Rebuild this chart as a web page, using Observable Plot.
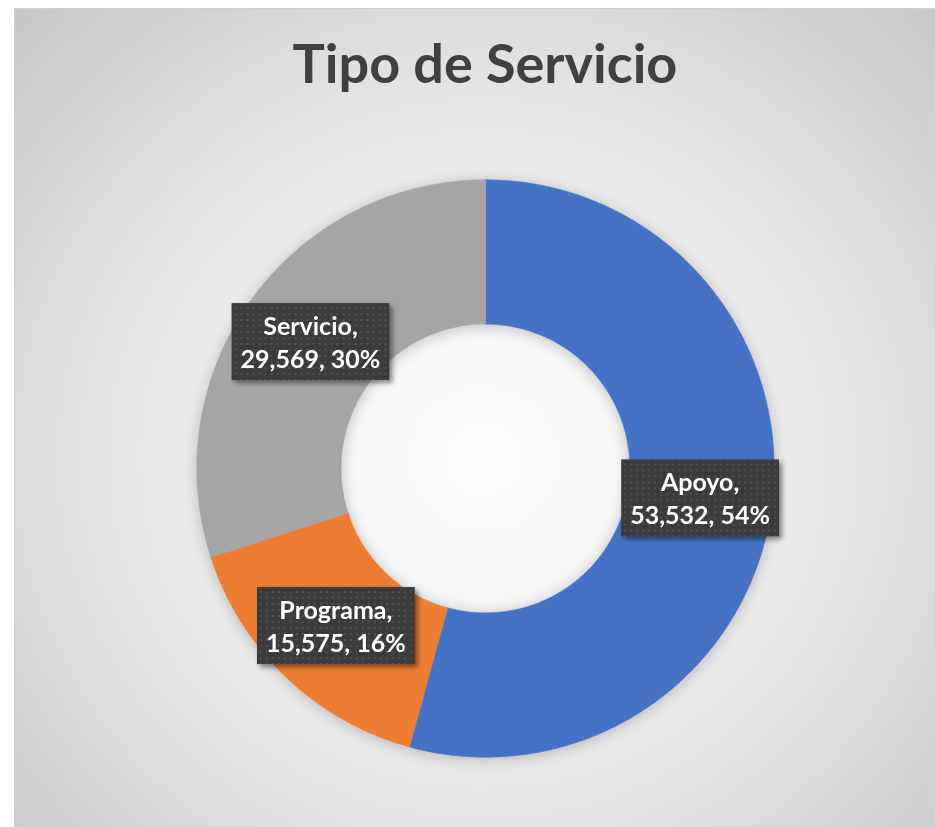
<!DOCTYPE html>
<html>
<head>
<meta charset="utf-8">
<script src="https://cdn.jsdelivr.net/npm/d3@7"></script>
<script src="https://cdn.jsdelivr.net/npm/@observablehq/plot@0.6"></script>
<style>
  html, body { margin: 0; padding: 0; background: #ffffff; }
  #frame {
    position: absolute; left: 14px; top: 8px; width: 921px; height: 819px;
    overflow: hidden;
    background: radial-gradient(ellipse farthest-corner at 51% 55%, #ffffff 0%, #f2f2f2 30%, #e3e3e3 60%, #c6c6c6 100%);
    box-shadow: inset 1px 1px 0 #cfcfcf;
  }
  #title {
    position: absolute; left: 0; top: 28px; width: 942px; text-align: center;
    font-family: Lato, "Open Sans", sans-serif; font-weight: bold; font-size: 54px;
    line-height: 54px; color: #404040; margin: 0;
  }
  #chart { position: absolute; left: 0; top: 120px; }
</style>
</head>
<body>
<div id="frame">
  <div id="title">Tipo de Servicio</div>
  <div id="chart"></div>
</div>
<script>
// ---- data ----
const categories = ["Apoyo", "Programa", "Servicio"];
const values = [53532, 15575, 29569];
const colors = ["#4472C4", "#ED7D31", "#A5A5A5"];

// ---- layout ----
const W = 921, H = 699;
const cx = 471, cy = 340;        // donut centre inside the svg (px)
const Rpx = 288.7;                // outer radius (px)
const inner = 0.5;                // hole size (fraction of outer radius)
const midR = (1 + inner) / 2;

const rows = categories.map((c, i) => ({category: c, value: values[i], color: colors[i]}));
const total = d3.sum(values);
const arcs = d3.pie().sort(null).value(d => d.value)(rows);

function ringPoints(a0, a1) {
  const pts = [];
  const n = Math.max(16, Math.ceil((a1 - a0) / 0.005));
  for (let i = 0; i <= n; i++) {
    const a = a0 + (a1 - a0) * i / n;
    pts.push({x: Math.sin(a), y: Math.cos(a)});
  }
  for (let i = n; i >= 0; i--) {
    const a = a0 + (a1 - a0) * i / n;
    pts.push({x: inner * Math.sin(a), y: inner * Math.cos(a)});
  }
  return pts;
}

const fmt = d3.format(",");
const labels = arcs.map(a => {
  const m = (a.startAngle + a.endAngle) / 2;
  return {
    x: midR * Math.sin(m),
    y: midR * Math.cos(m),
    text: `${a.data.category},\n${fmt(a.data.value)}, ${Math.round(a.data.value / total * 100)}%`
  };
});

const sliceMarks = arcs.map(a =>
  Plot.line(ringPoints(a.startAngle, a.endAngle), {
    x: "x", y: "y", curve: "linear-closed",
    fill: a.data.color, stroke: a.data.color, strokeWidth: 0.6,
    className: "slice"
  })
);

const plot = Plot.plot({
  width: W, height: H,
  margin: 0,
  style: {background: "transparent", overflow: "visible"},
  x: {domain: [-cx / Rpx, (W - cx) / Rpx], range: [0, W], axis: null},
  y: {domain: [-(H - cy) / Rpx, cy / Rpx], range: [H, 0], axis: null},
  marks: [
    ...sliceMarks,
    Plot.text(labels, {
      x: "x", y: "y", text: "text",
      fill: "white", fontSize: 25, fontWeight: "bold",
      fontFamily: "Lato, 'Open Sans', sans-serif",
      lineHeight: 1.32, className: "lbl"
    })
  ]
});

document.getElementById("chart").append(plot);

// ---- decorations: shadow filters, dotted label boxes ----
const ns = "http://www.w3.org/2000/svg";
const svg = plot.tagName.toLowerCase() === "svg" ? plot : plot.querySelector("svg");
const defs = document.createElementNS(ns, "defs");
defs.innerHTML = `
  <filter id="glow" x="-20%" y="-20%" width="140%" height="140%">
    <feDropShadow dx="0" dy="2" stdDeviation="7" flood-color="#000" flood-opacity="0.22"/>
  </filter>
  <filter id="boxshadow" x="-20%" y="-20%" width="140%" height="140%">
    <feDropShadow dx="3" dy="3" stdDeviation="2.5" flood-color="#000" flood-opacity="0.45"/>
  </filter>
  <pattern id="dots" width="6" height="6" patternUnits="userSpaceOnUse">
    <rect width="6" height="6" fill="#3b3b3b"/>
    <rect x="2" y="2" width="2" height="2" fill="#4f4f4f"/>
  </pattern>`;
svg.insertBefore(defs, svg.firstChild);

const sliceGroups = Array.from(svg.querySelectorAll("g.slice"));
if (sliceGroups.length) {
  const wrap = document.createElementNS(ns, "g");
  wrap.setAttribute("filter", "url(#glow)");
  sliceGroups[0].parentNode.insertBefore(wrap, sliceGroups[0]);
  sliceGroups.forEach(g => wrap.appendChild(g));
}

svg.querySelectorAll("g.lbl text").forEach(t => {
  const bb = t.getBBox();
  const padX = 9, padY = 7;
  const r = document.createElementNS(ns, "rect");
  r.setAttribute("x", bb.x - padX);
  r.setAttribute("y", bb.y - padY);
  r.setAttribute("width", bb.width + 2 * padX);
  r.setAttribute("height", bb.height + 2 * padY);
  r.setAttribute("fill", "url(#dots)");
  r.setAttribute("filter", "url(#boxshadow)");
  const tr = t.getAttribute("transform");
  if (tr) r.setAttribute("transform", tr);
  t.parentNode.insertBefore(r, t);
});
</script>
</body>
</html>
